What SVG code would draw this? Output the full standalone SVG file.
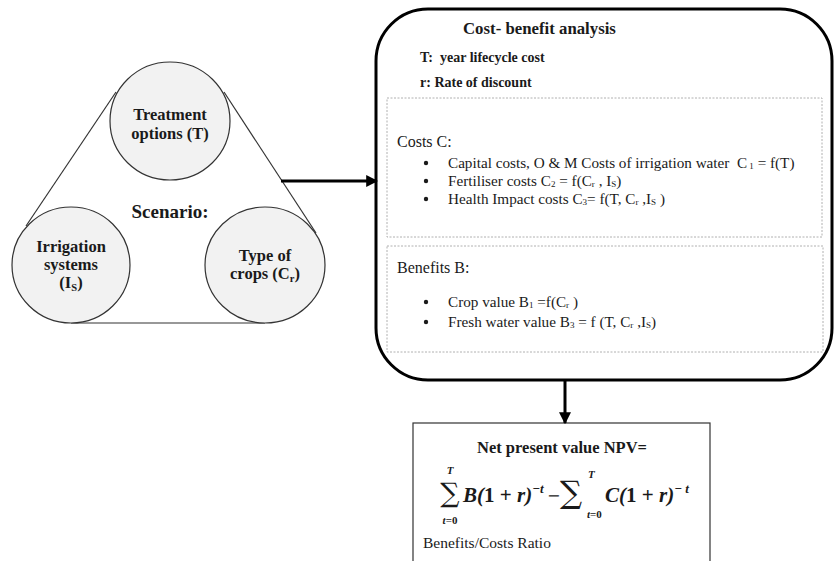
<svg xmlns="http://www.w3.org/2000/svg" width="835" height="561" viewBox="0 0 835 561">
  <style>
    .serif { font-family: "Liberation Serif", "Times New Roman", serif; fill: #1a1a1a; }
    .b { font-weight: bold; }
    .node { fill: #f2f2f2; stroke: #333; stroke-width: 1.2; }
    .tri { stroke: #333; stroke-width: 1.2; fill: none; }
    .dash { fill: none; stroke: #b0b0b0; stroke-width: 1; stroke-dasharray: 2 1.5; }
    .conn { stroke: #000; stroke-width: 3; fill: none; }
    .math { font-family: "Liberation Serif", "Times New Roman", serif; font-weight: bold; font-style: italic; fill: #1a1a1a; }
    .up { font-style: normal; }
    .sym { font-family: "DejaVu Serif", "Liberation Serif", serif; fill: #1a1a1a; }
  </style>
  <defs>
    <marker id="arrow" viewBox="0 0 10 10" refX="9" refY="5" markerWidth="4" markerHeight="4" orient="auto" markerUnits="strokeWidth">
      <path d="M0,0 L10,5 L0,10 z" fill="#000"/>
    </marker>
  </defs>
  <rect width="835" height="561" fill="#fff"/>

  <!-- scenario triangle -->
  <g id="scenario">
    <line class="tri" x1="116" y1="92" x2="26" y2="226"/>
    <line class="tri" x1="224" y1="92" x2="316" y2="233"/>
    <line class="tri" x1="71" y1="323" x2="265" y2="323"/>
    <text class="serif b" x="170" y="218" font-size="19" text-anchor="middle">Scenario:</text>
  </g>
  <g id="treatment">
    <ellipse class="node" cx="170" cy="121" rx="60" ry="59"/>
    <text class="serif b" x="170" y="120" font-size="16.5" text-anchor="middle">Treatment</text>
    <text class="serif b" x="170" y="139" font-size="16.5" text-anchor="middle">options (T)</text>
  </g>
  <g id="irrigation">
    <ellipse class="node" cx="71" cy="265" rx="59" ry="58"/>
    <text class="serif b" x="71" y="252" font-size="16.5" text-anchor="middle">Irrigation</text>
    <text class="serif b" x="71" y="270" font-size="16.5" text-anchor="middle">systems</text>
    <text class="serif b" x="71" y="288" font-size="16.5" text-anchor="middle">(I<tspan font-size="10.5" dy="3">S</tspan><tspan dy="-3">)</tspan></text>
  </g>
  <g id="crops">
    <ellipse class="node" cx="265" cy="265" rx="60" ry="58"/>
    <text class="serif b" x="265" y="261" font-size="16.5" text-anchor="middle">Type of</text>
    <text class="serif b" x="265" y="279" font-size="16.5" text-anchor="middle">crops (C<tspan font-size="10.5" dy="3">r</tspan><tspan dy="-3">)</tspan></text>
  </g>

  <!-- cost-benefit analysis -->
  <g id="cba">
    <rect x="376" y="9" width="456" height="371" rx="52" ry="52" fill="#fff" stroke="#000" stroke-width="3"/>
    <text class="serif b" x="463" y="34" font-size="16.8">Cost- benefit analysis</text>
    <text class="serif b" x="420" y="62" font-size="14" xml:space="preserve">T:  year lifecycle cost</text>
    <text class="serif b" x="420" y="87" font-size="14">r: Rate of discount</text>
  </g>
  <g id="costs">
    <rect class="dash" x="387" y="98" width="435" height="139"/>
    <text class="serif" x="397" y="147" font-size="16">Costs C:</text>
    <circle cx="426" cy="163" r="2.2" fill="#1a1a1a"/>
    <text class="serif" x="448" y="168" font-size="15.2" xml:space="preserve">Capital costs, O &amp; M Costs of irrigation water  C<tspan font-size="9" dy="1"> 1</tspan><tspan dy="-1"> = f(T)</tspan></text>
    <circle cx="426" cy="181" r="2.2" fill="#1a1a1a"/>
    <text class="serif" x="448" y="186" font-size="15.2" xml:space="preserve">Fertiliser costs C<tspan font-size="9" dy="1">2</tspan><tspan dy="-1"> = f(C</tspan><tspan font-size="9" dy="1">r</tspan><tspan dy="-1"> , I</tspan><tspan font-size="9" dy="1">S</tspan><tspan dy="-1">)</tspan></text>
    <circle cx="426" cy="199" r="2.2" fill="#1a1a1a"/>
    <text class="serif" x="448" y="204" font-size="15.2" xml:space="preserve">Health Impact costs C<tspan font-size="9" dy="1">3</tspan><tspan dy="-1">= f(T, C</tspan><tspan font-size="9" dy="1">r</tspan><tspan dy="-1"> ,I</tspan><tspan font-size="9" dy="1">S</tspan><tspan dy="-1"> )</tspan></text>
  </g>
  <g id="benefits">
    <rect class="dash" x="387" y="246" width="436" height="106"/>
    <text class="serif" x="397" y="273" font-size="16">Benefits B:</text>
    <circle cx="426" cy="302" r="2.2" fill="#1a1a1a"/>
    <text class="serif" x="448" y="307" font-size="15.2" xml:space="preserve">Crop value B<tspan font-size="9" dy="1">1</tspan><tspan dy="-1"> =f(C</tspan><tspan font-size="9" dy="1">r</tspan><tspan dy="-1"> )</tspan></text>
    <circle cx="426" cy="322" r="2.2" fill="#1a1a1a"/>
    <text class="serif" x="448" y="327" font-size="15.2" xml:space="preserve">Fresh water value B<tspan font-size="9" dy="1">3</tspan><tspan dy="-1"> = f (T, C</tspan><tspan font-size="9" dy="1">r</tspan><tspan dy="-1"> ,I</tspan><tspan font-size="9" dy="1">S</tspan><tspan dy="-1">)</tspan></text>
  </g>

  <!-- net present value -->
  <g id="npv">
    <rect x="413" y="423" width="297" height="150" fill="#fff" stroke="#333" stroke-width="1.2"/>
    <text class="serif b" x="562" y="453" font-size="16.5" text-anchor="middle">Net present value NPV=</text>
    <text class="math" x="450" y="474" font-size="11" text-anchor="middle">T</text>
    <text class="sym" x="450" y="502" font-size="27" text-anchor="middle">∑</text>
    <text class="math" x="450" y="524" font-size="11" text-anchor="middle">t<tspan class="up">=0</tspan></text>
    <text class="math" x="463" y="502" font-size="21" xml:space="preserve">B(<tspan class="up">1</tspan> <tspan class="up">+</tspan> r)<tspan font-size="13" dy="-9">−t</tspan></text>
    <text class="sym" x="547" y="501" font-size="16">−</text>
    <text class="sym" x="560" y="503" font-size="31">∑</text>
    <text class="math" x="588" y="478" font-size="11">T</text>
    <text class="math" x="587" y="518" font-size="11">t<tspan class="up">=0</tspan></text>
    <text class="math" x="605" y="502" font-size="21" xml:space="preserve">C(<tspan class="up">1</tspan> <tspan class="up">+</tspan> r)<tspan font-size="13" dy="-9">− t</tspan></text>
    <text class="serif" x="423" y="548" font-size="15.5">Benefits/Costs Ratio</text>
  </g>

  <!-- connectors -->
  <g id="connectors">
    <line class="conn" x1="281" y1="181" x2="377" y2="181" marker-end="url(#arrow)"/>
    <line class="conn" x1="565" y1="381" x2="565" y2="423" marker-end="url(#arrow)"/>
  </g>
</svg>
